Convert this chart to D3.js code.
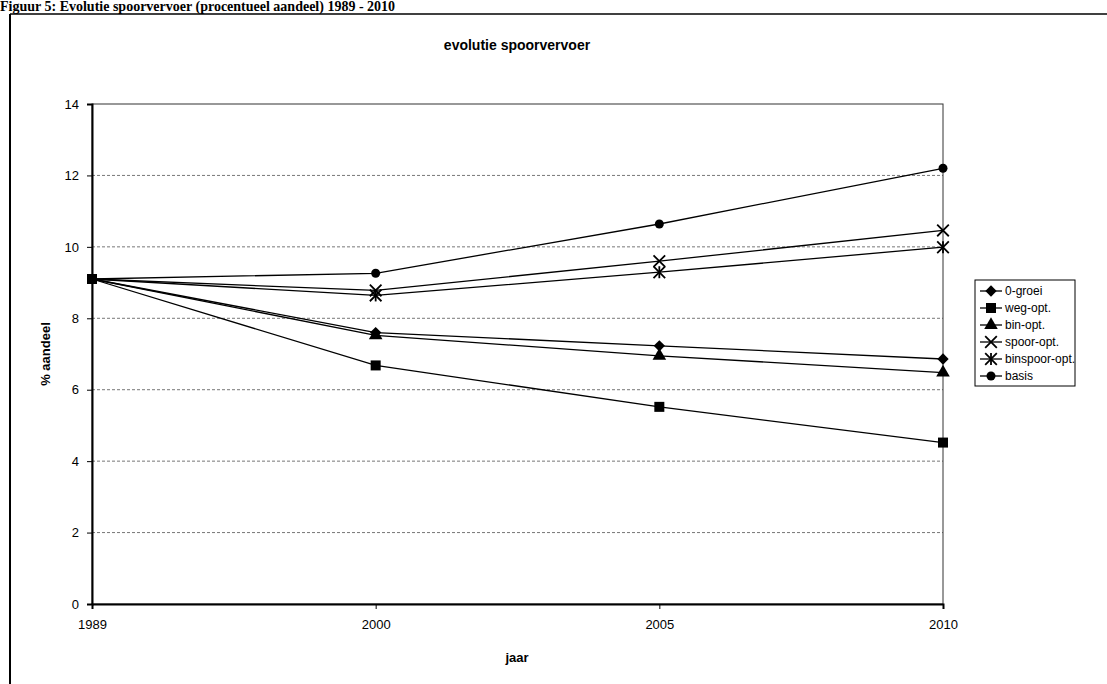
<!DOCTYPE html>
<html>
<head>
<meta charset="utf-8">
<script src="https://cdn.jsdelivr.net/npm/d3@7"></script>
<style>
  body { margin: 0; background: #fff; }
  svg { display: block; }
</style>
</head>
<body>
<div id="chart"></div>
<script>
var width = 1107;
var height = 684;

// Data
var years = ["1989", "2000", "2005", "2010"];
var seriesNames = ["0-groei", "weg-opt.", "bin-opt.", "spoor-opt.", "binspoor-opt.", "basis"];
var groei = [9.1, 7.6, 7.23, 6.86];
var wegOpt = [9.1, 6.68, 5.52, 4.52];
var binOpt = [9.1, 7.52, 6.95, 6.48];
var spoorOpt = [9.1, 8.78, 9.6, 10.46];
var binspoorOpt = [9.1, 8.64, 9.29, 9.99];
var basis = [9.1, 9.26, 10.64, 12.2];
var yTicks = [0, 2, 4, 6, 8, 10, 12, 14];

var seriesValues = [groei, wegOpt, binOpt, spoorOpt, binspoorOpt, basis];
var markers = ["diamond", "square", "triangle", "x", "star", "circle"];

var svg = d3.select("#chart")
    .append("svg")
    .attr("width", width)
    .attr("height", height);

// figure caption at the top of the scan
svg.append("text")
    .attr("x", 0)
    .attr("y", 11)
    .attr("font-family", "Liberation Serif, Times New Roman, serif")
    .attr("font-weight", "bold")
    .attr("font-size", 14)
    .text("Figuur 5: Evolutie spoorvervoer (procentueel aandeel) 1989 - 2010");

// outer frame
svg.append("line").attr("x1", 10).attr("x2", 10).attr("y1", 14).attr("y2", height)
    .attr("stroke", "#000").attr("stroke-width", 2);
svg.append("line").attr("x1", 10).attr("x2", width).attr("y1", 14).attr("y2", 14)
    .attr("stroke", "#000").attr("stroke-width", 1.5);

var plot = { left: 92, right: 943, top: 104, bottom: 604 };

var x = d3.scalePoint()
    .domain(years)
    .range([plot.left, plot.right]);

var y = d3.scaleLinear()
    .domain([0, 14])
    .range([plot.bottom, plot.top]);

// gridlines
svg.append("g")
    .selectAll("line")
    .data(yTicks.filter(function(d) { return d > 0 && d < 14; }))
    .enter()
    .append("line")
    .attr("x1", plot.left)
    .attr("x2", plot.right)
    .attr("y1", function(d) { return y(d); })
    .attr("y2", function(d) { return y(d); })
    .attr("stroke", "#777")
    .attr("stroke-width", 1)
    .attr("stroke-dasharray", "3,2");

// plot area border
svg.append("rect")
    .attr("x", plot.left)
    .attr("y", plot.top)
    .attr("width", plot.right - plot.left)
    .attr("height", plot.bottom - plot.top)
    .attr("fill", "none")
    .attr("stroke", "#333")
    .attr("stroke-width", 1);

// axes
var yAxis = svg.append("g")
    .attr("transform", "translate(" + plot.left + ",0)")
    .call(d3.axisLeft(y).tickValues(yTicks).tickSize(5).tickPadding(8));
yAxis.select(".domain").attr("stroke", "#000").attr("stroke-width", 2);

var xAxis = svg.append("g")
    .attr("transform", "translate(0," + plot.bottom + ")")
    .call(d3.axisBottom(x).tickSize(5).tickPadding(11));
xAxis.select(".domain").attr("stroke", "#000").attr("stroke-width", 2);

svg.selectAll(".tick text")
    .attr("font-family", "Liberation Sans, Arial, sans-serif")
    .attr("font-size", 13)
    .attr("fill", "#000");

// titles
svg.append("text")
    .attr("x", 517)
    .attr("y", 50)
    .attr("text-anchor", "middle")
    .attr("font-family", "Liberation Sans, Arial, sans-serif")
    .attr("font-weight", "bold")
    .attr("font-size", 14)
    .text("evolutie spoorvervoer");

svg.append("text")
    .attr("x", 517)
    .attr("y", 662)
    .attr("text-anchor", "middle")
    .attr("font-family", "Liberation Sans, Arial, sans-serif")
    .attr("font-weight", "bold")
    .attr("font-size", 13)
    .text("jaar");

svg.append("text")
    .attr("transform", "translate(50," + ((plot.top + plot.bottom) / 2) + ") rotate(-90)")
    .attr("text-anchor", "middle")
    .attr("font-family", "Liberation Sans, Arial, sans-serif")
    .attr("font-weight", "bold")
    .attr("font-size", 13)
    .text("% aandeel");

// marker drawing
function drawMarker(g, type, cx, cy) {
    if (type === "diamond") {
        g.append("rect").attr("x", -4).attr("y", -4).attr("width", 8).attr("height", 8)
            .attr("transform", "translate(" + cx + "," + cy + ") rotate(45)").attr("fill", "#000");
    } else if (type === "square") {
        g.append("rect").attr("x", cx - 5).attr("y", cy - 5).attr("width", 10).attr("height", 10).attr("fill", "#000");
    } else if (type === "triangle") {
        g.append("path").attr("d", d3.symbol().type(d3.symbolTriangle).size(80)())
            .attr("transform", "translate(" + cx + "," + cy + ")").attr("fill", "#000");
    } else if (type === "x") {
        g.append("path").attr("d", d3.symbol().type(d3.symbolTimes).size(90)())
            .attr("transform", "translate(" + cx + "," + cy + ")")
            .attr("fill", "none").attr("stroke", "#000").attr("stroke-width", 1.8);
    } else if (type === "star") {
        g.append("path").attr("d", d3.symbol().type(d3.symbolTimes).size(90)())
            .attr("transform", "translate(" + cx + "," + cy + ")")
            .attr("fill", "none").attr("stroke", "#000").attr("stroke-width", 1.8);
        g.append("line").attr("x1", cx).attr("x2", cx).attr("y1", cy - 6).attr("y2", cy + 6)
            .attr("stroke", "#000").attr("stroke-width", 1.8);
    } else {
        g.append("circle").attr("cx", cx).attr("cy", cy).attr("r", 4.5).attr("fill", "#000");
    }
}

var line = d3.line()
    .x(function(d, i) { return x(years[i]); })
    .y(function(d) { return y(d); });

seriesValues.forEach(function(values, s) {
    var g = svg.append("g");
    g.append("path")
        .datum(values)
        .attr("fill", "none")
        .attr("stroke", "#000")
        .attr("stroke-width", 1.3)
        .attr("d", line);
    values.forEach(function(v, i) {
        if (i === 0) return;
        drawMarker(g, markers[s], x(years[i]), y(v));
    });
});

// 1989 start point (all series share it)
svg.append("rect")
    .attr("x", x(years[0]) - 5)
    .attr("y", y(groei[0]) - 5)
    .attr("width", 10)
    .attr("height", 10)
    .attr("fill", "#000");

// legend
var legend = svg.append("g").attr("transform", "translate(975,280)");
legend.append("rect")
    .attr("width", 100)
    .attr("height", 106)
    .attr("fill", "#fff")
    .attr("stroke", "#000")
    .attr("stroke-width", 1);

seriesNames.forEach(function(name, i) {
    var ly = 11 + i * 17;
    legend.append("line")
        .attr("x1", 5).attr("x2", 27)
        .attr("y1", ly).attr("y2", ly)
        .attr("stroke", "#000").attr("stroke-width", 1.3);
    drawMarker(legend, markers[i], 16, ly);
    legend.append("text")
        .attr("x", 30)
        .attr("y", ly + 4)
        .attr("font-family", "Liberation Sans, Arial, sans-serif")
        .attr("font-size", 12)
        .text(name);
});
</script>
</body>
</html>
